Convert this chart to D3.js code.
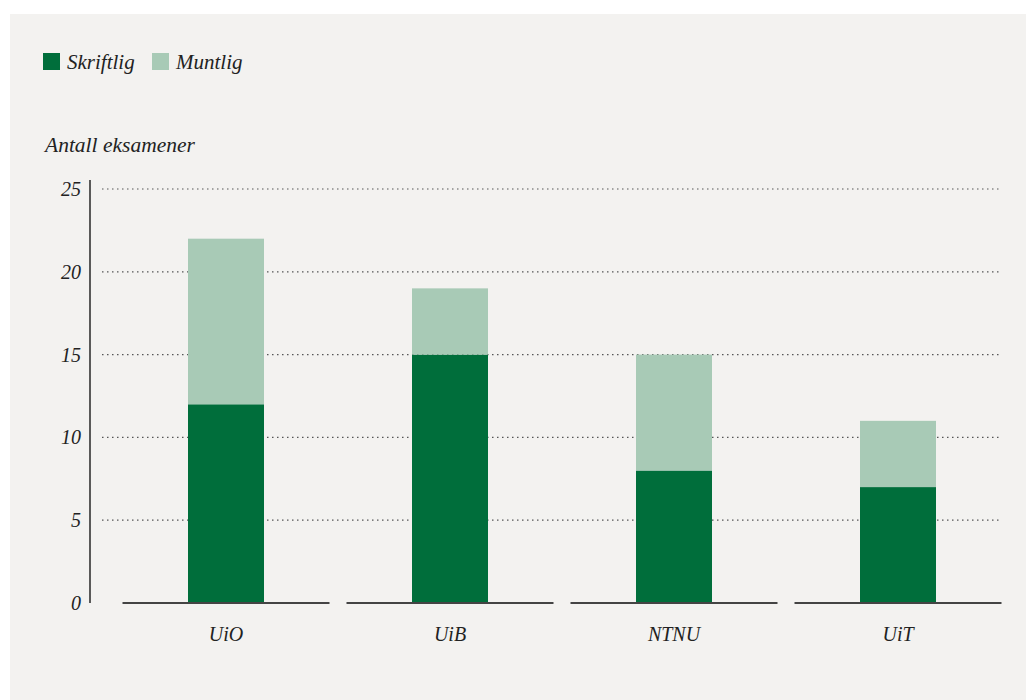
<!DOCTYPE html>
<html>
<head>
<meta charset="utf-8">
<script src="https://cdn.jsdelivr.net/npm/d3@7"></script>
<style>
  html, body { margin: 0; padding: 0; background: #ffffff; }
  svg { display: block; }
  text { font-family: "Liberation Serif", "DejaVu Serif", serif; font-style: italic; fill: #222; }
</style>
</head>
<body>
<svg id="chart" width="1026" height="700"></svg>
<script>
const categories = ["UiO", "UiB", "NTNU", "UiT"];
const skriftlig = [12, 15, 8, 7];
const muntlig = [10, 4, 7, 4];
const seriesNames = ["Skriftlig", "Muntlig"];
const seriesColors = ["#006e3b", "#a8cab6"];
const yTicks = [0, 5, 10, 15, 20, 25];
const yTitle = "Antall eksamener";

const svg = d3.select("#chart");
svg.append("rect").attr("x", 10).attr("y", 14).attr("width", 1016).attr("height", 686).attr("fill", "#f3f2f0");

const y = d3.scaleLinear().domain([0, 25]).range([603, 189]);
const x = d3.scaleBand().domain(categories).range([114, 1010]).paddingInner(0).paddingOuter(0);
const segHalf = 103.5, barHalf = 38;

// gridlines
svg.append("g").selectAll("line").data(yTicks.filter(d => d > 0)).join("line")
  .attr("x1", 102).attr("x2", 1000)
  .attr("y1", d => y(d)).attr("y2", d => y(d))
  .attr("stroke", "#555").attr("stroke-width", 1.2).attr("stroke-dasharray", "1.5,3.5");

// y axis
const yAxis = d3.axisLeft(y).tickValues(yTicks).tickSize(0).tickPadding(8);
const gy = svg.append("g").attr("transform", "translate(90,0)").call(yAxis);
gy.select(".domain").remove();
gy.append("line").attr("x1", 0).attr("x2", 0).attr("y1", 180).attr("y2", 603).attr("stroke", "#333").attr("stroke-width", 1.6);
gy.selectAll(".tick text").attr("font-size", 20).attr("fill", "#222")
  .attr("font-family", "Liberation Serif, serif").attr("font-style", "italic").attr("dx", -1);

// stacked data
const data = categories.map((c, i) => ({ cat: c, Skriftlig: skriftlig[i], Muntlig: muntlig[i] }));
const stack = d3.stack().keys(seriesNames)(data);

svg.append("g").selectAll("g").data(stack).join("g")
  .attr("fill", (d, i) => seriesColors[i])
  .selectAll("rect").data(d => d).join("rect")
  .attr("x", d => x(d.data.cat) + x.bandwidth() / 2 - barHalf)
  .attr("width", barHalf * 2)
  .attr("y", d => y(d[1]))
  .attr("height", d => y(d[0]) - y(d[1]));

// baseline segments
svg.append("g").selectAll("line").data(categories).join("line")
  .attr("x1", d => x(d) + x.bandwidth() / 2 - segHalf)
  .attr("x2", d => x(d) + x.bandwidth() / 2 + segHalf)
  .attr("y1", y(0)).attr("y2", y(0))
  .attr("stroke", "#444").attr("stroke-width", 2);

// category labels
svg.append("g").selectAll("text").data(categories).join("text")
  .attr("x", d => x(d) + x.bandwidth() / 2)
  .attr("y", 641)
  .attr("text-anchor", "middle")
  .attr("font-size", 20)
  .text(d => d);

// y title
svg.append("text").attr("x", 45).attr("y", 152).attr("font-size", 21.5).text(yTitle);

// legend
const legendX = [43, 152];
const lg = svg.append("g").selectAll("g").data(seriesNames).join("g")
  .attr("transform", (d, i) => `translate(${legendX[i]},53)`);
lg.append("rect").attr("width", 17).attr("height", 17).attr("fill", (d, i) => seriesColors[i]);
lg.append("text").attr("x", 24).attr("y", 16).attr("font-size", 21).text(d => d);
</script>
</body>
</html>
